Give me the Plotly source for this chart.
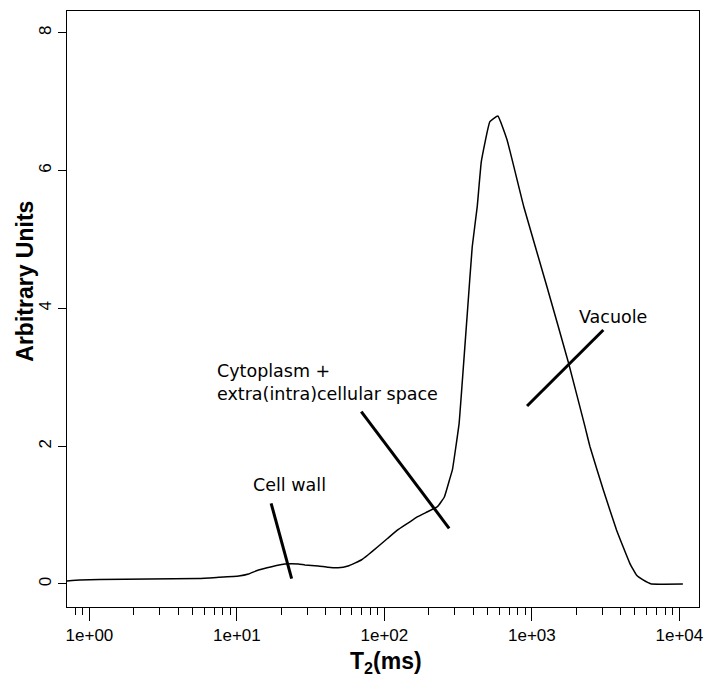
import math
import plotly.graph_objects as go

# T2 relaxation distribution (ms) and amplitude
t2_ms = [0.70, 0.86, 1.17, 2.54, 5.52, 7.53, 10.3, 12.0, 14.0, 17.2, 21.2, 26.1,
         28.9, 35.6, 41.5, 48.5, 56.7, 69.7, 77.3, 90.2, 105.4, 123, 143.8, 168,
         196.3, 229, 255, 276, 289, 321, 338, 365, 394, 426, 454, 519, 588, 679,
         881, 1265, 1772, 2291, 2477, 3051, 3748, 4613, 5116, 5675, 6135, 6456,
         10560]
amplitude = [0.044, 0.058, 0.065, 0.073, 0.080, 0.097, 0.116, 0.145, 0.203, 0.251,
             0.290, 0.290, 0.276, 0.261, 0.242, 0.235, 0.261, 0.348, 0.421, 0.541,
             0.663, 0.784, 0.881, 0.977, 1.049, 1.122, 1.263, 1.509, 1.655, 2.332,
             2.961, 3.933, 4.895, 5.476, 6.129, 6.710, 6.792, 6.444, 5.476, 4.315,
             3.208, 2.283, 1.993, 1.364, 0.784, 0.300, 0.131, 0.058, 0.019, 0.0,
             0.0]

# axis ticks
x_tick_vals = [1, 10, 100, 1000, 10000]
x_tick_text = ["1e+00", "1e+01", "1e+02", "1e+03", "1e+04"]
y_tick_vals = [0, 2, 4, 6, 8]

# region labels: text, anchor point (T2, amplitude), pointer segment
region_labels = ["Cell wall", "Cytoplasm +<br>extra(intra)cellular space", "Vacuole"]
label_x = [22.9, 7.15, 3563]
label_y = [1.437, 2.93, 3.871]
label_xanchor = ["center", "left", "center"]
pointer_x0 = [17.06, 69.7, 927]
pointer_y0 = [1.171, 2.501, 2.583]
pointer_x1 = [23.5, 274.8, 3050]
pointer_y1 = [0.077, 0.808, 3.687]

fig = go.Figure()

fig.add_trace(go.Scatter(
    x=t2_ms, y=amplitude, mode="lines",
    line=dict(color="black", width=1.5, shape="spline", smoothing=0.3),
    showlegend=False, hoverinfo="skip",
))

for x0, y0, x1, y1 in zip(pointer_x0, pointer_y0, pointer_x1, pointer_y1):
    fig.add_trace(go.Scatter(
        x=[x0, x1], y=[y0, y1], mode="lines",
        line=dict(color="black", width=3),
        showlegend=False, hoverinfo="skip",
    ))

annotations = []
for txt, lx, ly, xa in zip(region_labels, label_x, label_y, label_xanchor):
    annotations.append(dict(
        x=math.log10(lx), y=ly, xref="x", yref="y",
        text=txt, showarrow=False, xanchor=xa, yanchor="middle", align="left",
        font=dict(family="DejaVu Sans", size=17.5, color="black"),
    ))

# axis titles
annotations.append(dict(
    x=0.505, y=-0.0923, xref="paper", yref="paper",
    text="<b>T<sub>2</sub>(ms)</b>", showarrow=False,
    xanchor="center", yanchor="middle",
    font=dict(family="Liberation Sans", size=23, color="black"),
))
annotations.append(dict(
    x=-0.0669, y=0.547, xref="paper", yref="paper",
    text="<b>Arbitrary Units</b>", showarrow=False, textangle=-90,
    xanchor="center", yanchor="middle",
    font=dict(family="Liberation Sans", size=23, color="black"),
))

minor_vals = [k * 10.0 ** d for d in range(-1, 5) for k in range(2, 10)]

fig.update_layout(
    width=706, height=677,
    margin=dict(l=67, r=3, t=11, b=70),
    paper_bgcolor="white", plot_bgcolor="white",
    annotations=annotations,
    font=dict(family="Liberation Sans", size=17, color="black"),
)

fig.update_xaxes(
    type="log", range=[-0.152, 4.133],
    tickvals=x_tick_vals, ticktext=x_tick_text,
    ticks="outside", ticklen=13, tickwidth=1, tickcolor="black",
    ticklabeloverflow="allow",
    minor=dict(tickvals=minor_vals, ticks="outside", ticklen=7, tickwidth=1,
               tickcolor="black", showgrid=False),
    showline=True, linecolor="black", linewidth=1, mirror=True,
    showgrid=False, zeroline=False,
    tickfont=dict(family="Liberation Sans", size=17, color="black"),
)
fig.update_yaxes(
    range=[-0.334, 8.316],
    tickvals=y_tick_vals, tickangle=-90,
    ticks="outside", ticklen=8, tickwidth=1, tickcolor="black",
    showline=True, linecolor="black", linewidth=1, mirror=True,
    showgrid=False, zeroline=False,
    tickfont=dict(family="Liberation Sans", size=17, color="black"),
)

fig.write_html("out.html")
